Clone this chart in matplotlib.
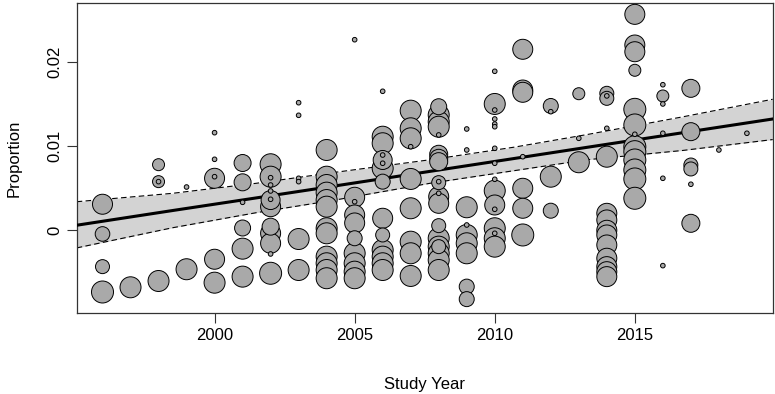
import matplotlib
matplotlib.use("Agg")
import matplotlib.pyplot as plt
import numpy as np

plt.rcParams['font.family'] = ['Liberation Sans', 'DejaVu Sans']

# data: (proportion, bubble radius in px) per study year
points = {
    1996: [(0.0031, 10), (-0.00044, 7.3), (-0.00433, 7), (-0.00735, 11)],
    1997: [(-0.00679, 10.5)],
    1998: [(0.00781, 6), (0.00579, 6), (0.00579, 2.3), (-0.00604, 10.5)],
    1999: [(0.00515, 2.3), (-0.00464, 10.5)],
    2000: [(0.01162, 2.3), (0.00845, 2.3), (0.00619, 10), (0.00638, 2.3),
           (-0.00345, 10), (-0.00624, 10.5)],
    2001: [(0.00801, 8.5), (0.00571, 8.5), (0.00333, 2.3), (0.00027, 8),
           (-0.00219, 10.5), (-0.00552, 10.5)],
    2002: [(0.00786, 10.5), (0.00638, 10.5), (0.00626, 2.3), (0.00539, 2.3),
           (0.00468, 2.3), (0.00369, 2.3), (0.0036, 9.5), (0.00281, 10),
           (0.00043, 8.5), (-0.00036, 10), (-0.00155, 10), (-0.00282, 2.3),
           (-0.00512, 11)],
    2003: [(0.01519, 2.3), (0.01369, 2.3), (0.00619, 2.3), (0.00579, 2.3),
           (-0.00104, 10.5), (-0.00473, 10.5)],
    2004: [(0.00956, 10.5), (0.00638, 10.5), (0.00539, 10.5), (0.00448, 10.5),
           (0.0036, 10.5), (0.00281, 10.5), (0.00024, 10.5), (-0.00036, 10.5),
           (-0.00314, 10.5), (-0.00393, 10.5), (-0.00473, 10.5), (-0.00571, 10.5)],
    2005: [(0.02269, 2.3), (0.00393, 10), (0.0034, 2.3), (0.00182, 10),
           (0.00087, 10), (-0.00095, 7.5), (-0.00274, 10.5), (-0.00393, 10.5),
           (-0.00493, 10.5), (-0.00571, 10.5)],
    2006: [(0.01655, 2.3), (0.01114, 10.5), (0.01036, 10.5), (0.00896, 2.3),
           (0.00837, 9.5), (0.00798, 2.3), (0.00738, 10.5), (0.00579, 7.5),
           (0.00143, 10), (-0.00056, 7), (-0.00235, 10.5), (-0.00314, 10.5),
           (-0.00393, 10.5), (-0.00473, 10.5)],
    2007: [(0.01424, 10.5), (0.01214, 10.5), (0.01095, 10.5), (0.00995, 2.3),
           (0.00611, 10.5), (0.00262, 10.5), (-0.00136, 10.5), (-0.00274, 10.5),
           (-0.00544, 10.5)],
    2008: [(0.01471, 8), (0.01373, 10.5), (0.01293, 10.5), (0.01233, 10.5),
           (0.01135, 2.3), (0.00905, 9), (0.00857, 9), (0.00817, 9),
           (0.00579, 2.3), (0.00567, 7), (0.0044, 2.3), (0.004, 10),
           (0.00321, 10), (0.00055, 7), (-0.00095, 10.5), (-0.00195, 10.5),
           (-0.00195, 7), (-0.00274, 10.5), (-0.00354, 10.5), (-0.00473, 10.5)],
    2009: [(0.01206, 2.3), (0.00956, 2.3), (0.00274, 10.5), (0.00063, 2.3),
           (-0.00056, 10.5), (-0.00155, 10.5), (-0.00274, 10.5),
           (-0.00671, 7.5), (-0.0082, 7.5)],
    2010: [(0.01893, 2.3), (0.01504, 10.5), (0.01432, 2.3), (0.01325, 2.3),
           (0.01265, 2.3), (0.01233, 2.3), (0.00976, 2.3), (0.00798, 2.3),
           (0.00607, 2.3), (0.00471, 10.5), (0.00301, 10), (0.0025, 2.3),
           (0.00024, 10.5), (-0.00036, 2.3), (-0.00095, 10.5), (-0.00195, 10.5)],
    2011: [(0.02155, 10), (0.0167, 10), (0.01643, 10), (0.00876, 2.3),
           (0.005, 10), (0.00262, 10), (-0.00056, 11)],
    2012: [(0.0148, 7.5), (0.01412, 2.3), (0.00638, 10.5), (0.00233, 7.5)],
    2013: [(0.01626, 6), (0.01095, 2.3), (0.0081, 10.5)],
    2014: [(0.01631, 7), (0.016, 2.3), (0.01571, 7), (0.01214, 2.3),
           (0.00876, 10.5), (0.00202, 10), (0.00123, 10), (0.0, 10),
           (-0.00056, 10), (-0.00175, 10), (-0.00333, 10), (-0.00433, 10),
           (-0.00493, 10), (-0.00552, 10)],
    2015: [(0.02571, 10), (0.02206, 10), (0.02126, 10), (0.01905, 6),
           (0.0144, 11), (0.01254, 11), (0.01143, 2.3), (0.00995, 11),
           (0.00936, 11), (0.00837, 11), (0.00718, 11), (0.00611, 11),
           (0.00381, 11)],
    2016: [(0.01733, 2.3), (0.01599, 6), (0.01504, 2.3), (0.01155, 2.3),
           (0.00619, 2.3), (-0.00421, 2.3)],
    2017: [(0.0169, 9), (0.01174, 9), (0.00777, 7), (0.0073, 7),
           (0.00548, 2.3), (0.00083, 9)],
    2018: [(0.00956, 2.3)],
    2019: [(0.01155, 2.3)],
}

# fitted meta-regression line and its confidence band
pred_year = [1995.08, 1998.5, 2001.5, 2004.3, 2007.7, 2010.7, 2013.3, 2016.7, 2019.92]
pred = [0.00060, 0.00235, 0.00386, 0.00528, 0.00702, 0.00855, 0.00988, 0.01161, 0.01325]
ci_lb = [-0.0021, 0.0003, 0.0021, 0.0036, 0.0056, 0.0071, 0.0084, 0.0095, 0.0108]
ci_ub = [0.0034, 0.0044, 0.0056, 0.0069, 0.0084, 0.0099, 0.0114, 0.0135, 0.0156]

xticks = [2000, 2005, 2010, 2015]
yticks = [0, 0.01, 0.02]
ytick_labels = ['0', '0.01', '0.02']

years, props, rads = [], [], []
for yr, pts in points.items():
    for p, r in pts:
        years.append(yr)
        props.append(p)
        rads.append(r)
years = np.array(years)
props = np.array(props)
rads = np.array(rads)
order = np.argsort(-rads, kind='stable')

fig = plt.figure(figsize=(7.75, 3.94), dpi=100)
ax = fig.add_axes([0.099, 0.2056, 0.898, 0.7876])

ax.fill_between(pred_year, ci_lb, ci_ub, color='#d3d3d3', lw=0, zorder=1)
ax.plot(pred_year, ci_lb, color='black', lw=0.8, ls=(0, (5, 3)), zorder=2)
ax.plot(pred_year, ci_ub, color='black', lw=0.8, ls=(0, (5, 3)), zorder=2)
ax.plot(pred_year, pred, color='black', lw=2.2, zorder=3)

ax.scatter(years[order], props[order], s=(2 * rads[order] * 0.72) ** 2,
           c='#a9a9a9', edgecolors='black', linewidths=0.7, zorder=4)

ax.set_xlim(1995.08, 2019.92)
ax.set_ylim(-0.00985, 0.0271)
ax.set_xticks(xticks)
ax.set_yticks(yticks)
ax.set_yticklabels(ytick_labels, rotation=90, va='center')
ax.tick_params(axis='both', length=7, width=0.8, labelsize=12, color='#333333')
ax.tick_params(axis='x', pad=4)
ax.tick_params(axis='y', pad=3)
for s in ax.spines.values():
    s.set_linewidth(0.9)
    s.set_color('#333333')

ax.set_xlabel('Study Year', fontsize=12, labelpad=24)
ax.set_ylabel('Proportion', fontsize=12, labelpad=19)

fig.savefig('out.png', dpi=100)
